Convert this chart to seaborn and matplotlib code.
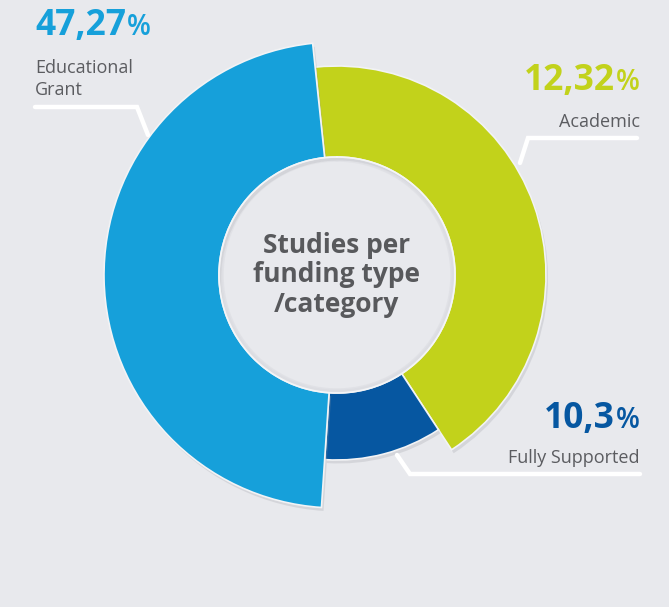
import numpy as np
import pandas as pd
import matplotlib
matplotlib.use("Agg")
import matplotlib.pyplot as plt
import matplotlib.patheffects as pe
import seaborn as sns

# datos (anillo con radios distintos por categoria)
categories = ["Academic", "Fully Supported", "Educational Grant"]
label_lines = ["Academic", "Fully Supported", "Educational\nGrant"]
shares = [42.43, 10.3, 47.27]          # parte angular del anillo
pct_text = ["12,32", "10,3", "47,27"]  # texto mostrado
outer_radius = [209, 185, 233]
inner_radius = 118
colors = ["#c2d21b", "#0657a1", "#16a0da"]
center_text = "Studies per\nfunding type\n/category"

bg = "#e8e9ed"
text_gray = "#5b5c60"

sns.set_theme(style="white")
plt.rcParams["font.family"] = ["Open Sans", "DejaVu Sans"]

df = pd.DataFrame({"category": categories, "share": shares,
                   "outer": outer_radius, "color": colors})
df["width"] = df["share"] / df["share"].sum() * 2 * np.pi
df["start"] = np.deg2rad(-6) + df["width"].cumsum() - df["width"]

W, H = 669, 607
fig = plt.figure(figsize=(W / 100, H / 100), dpi=100, facecolor=bg)

cx, cy = 337, 275
R = 240
ax = fig.add_axes([(cx - R) / W, (H - cy - R) / H, 2 * R / W, 2 * R / H],
                  projection="polar")
ax.set_theta_zero_location("N")
ax.set_theta_direction(-1)
ax.set_facecolor("none")

shadow = [pe.SimplePatchShadow(offset=(1.5, -2.5), shadow_rgbFace="#9a9ca3", alpha=0.25),
          pe.Normal()]
ax.bar(df["start"], df["outer"] - inner_radius, width=df["width"], bottom=inner_radius,
       align="edge", color=df["color"], edgecolor="#f2f3f5", linewidth=1.2,
       path_effects=shadow, zorder=2)

# circulo interior con un borde suave
theta = np.linspace(0, 2 * np.pi, 400)
for r, c, a in [(inner_radius - 3, "#d0d1d6", 0.3), (inner_radius - 1.5, "#d6d7dc", 0.4)]:
    ax.plot(theta, np.full_like(theta, r), color=c, lw=2.5, alpha=a, zorder=3)
ax.plot(theta, np.full_like(theta, inner_radius), color="#f4f5f7", lw=1.2, zorder=3)

ax.set_ylim(0, R)
ax.grid(False)
ax.set_xticks([])
ax.set_yticks([])
ax.spines["polar"].set_visible(False)

ax.text(0, 0, center_text, ha="center", va="center", fontsize=19,
        fontweight="bold", color="#58595c", linespacing=1.12, zorder=4)


def fx(x):
    return x / W


def fy(y):
    return 1 - y / H


# lineas guia blancas
guides = [
    [(637, 138), (528, 138), (520, 163)],
    [(640, 474), (410, 474), (397, 455)],
    [(35, 107), (137, 107), (148, 135)],
]
for pts in guides:
    xs = [fx(p[0]) for p in pts]
    ys = [fy(p[1]) for p in pts]
    fig.add_artist(plt.Line2D(xs, ys, color="white", lw=3.2, solid_joinstyle="miter"))

renderer = fig.canvas.get_renderer()

# etiquetas: (x, baseline numero, baseline texto, alineacion)
label_pos = [(640, 90, 127, "right"), (640, 428, 463, "right"), (35, 35, 73, "left")]
for i, (x, yn, yt, ha) in enumerate(label_pos):
    col = colors[i]
    if ha == "left":
        t = fig.text(fx(x), fy(yn), pct_text[i], ha="left", va="baseline",
                     fontsize=25.5, fontweight="bold", color=col)
        ext = t.get_window_extent(renderer)
        fig.text(fx(ext.x1 + 1), fy(yn), "%", ha="left", va="baseline",
                 fontsize=20, fontweight="semibold", color=col)
    else:
        p = fig.text(fx(x), fy(yn), "%", ha="right", va="baseline",
                     fontsize=20, fontweight="semibold", color=col)
        ext = p.get_window_extent(renderer)
        fig.text(fx(ext.x0 - 1), fy(yn), pct_text[i], ha="right", va="baseline",
                 fontsize=25.5, fontweight="bold", color=col)
    fig.text(fx(x), fy(yt), label_lines[i].split("\n")[0], ha=ha, va="baseline",
             fontsize=13, color=text_gray)
    if "\n" in label_lines[i]:
        fig.text(fx(x), fy(yt + 22), label_lines[i].split("\n")[1], ha=ha,
                 va="baseline", fontsize=13, color=text_gray)

fig.savefig("out.png", dpi=100, facecolor=bg)
